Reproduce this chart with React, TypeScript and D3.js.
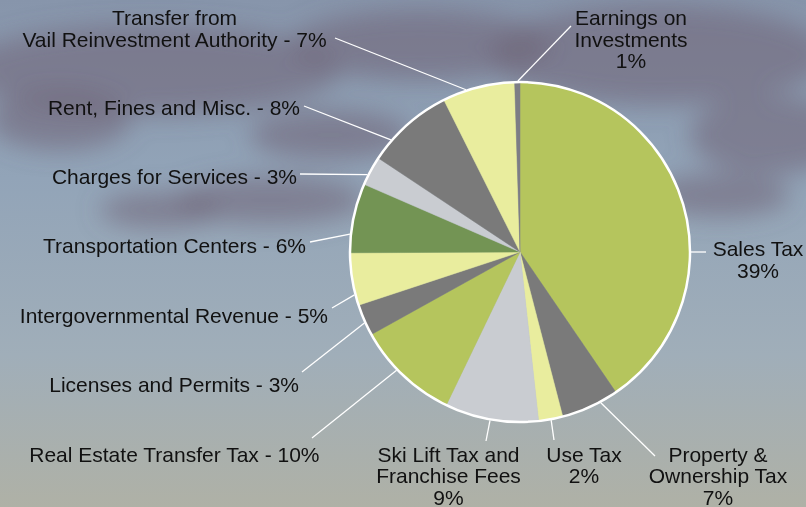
import React from "react";
import * as d3 from "d3";

// revenue sources, clockwise from 12 o'clock
const names = [
  "Sales Tax",
  "Property &\nOwnership Tax",
  "Use Tax",
  "Ski Lift Tax and\nFranchise Fees",
  "Real Estate Transfer Tax",
  "Licenses and Permits",
  "Intergovernmental Revenue",
  "Transportation Centers",
  "Charges for Services",
  "Rent, Fines and Misc.",
  "Transfer from\nVail Reinvestment Authority",
  "Earnings on\nInvestments",
];
// slice sizes as drawn (share of the circle, %)
const shares = [40.5, 5.5, 2.3, 8.9, 9.8, 3.0, 5.0, 6.6, 2.8, 8.3, 6.9, 0.5];
// percentages printed in the labels
const pctLabels = ["39%", "7%", "2%", "9%", "10%", "3%", "5%", "6%", "3%", "8%", "7%", "1%"];

const colors = [
  "#b5c55d", "#7a7a7a", "#e9ed9e", "#c9ccd1", "#b5c55d", "#7a7a7a",
  "#e9ed9e", "#739454", "#c9ccd1", "#7a7a7a", "#e9ed9e", "#7d7d85",
];

const W = 806;
const H = 507;
const cx = 520;
const cy = 252;
const R = 170;
const lineH = 21.5;

// label placement: edge angle (deg) of leader, leader end, text anchor point
const layout = [
  { a: 90, x2: 706, y2: 252, tx: 758, ty: 256, anchor: "middle", stacked: true },
  { a: 151.8, x2: 655, y2: 456, tx: 718, ty: 461.7, anchor: "middle", stacked: true },
  { a: 169.5, x2: 554, y2: 440, tx: 584, ty: 461.7, anchor: "middle", stacked: true },
  { a: 190.1, x2: 486, y2: 441, tx: 448.5, ty: 461.7, anchor: "middle", stacked: true },
  { a: 226.2, x2: 312, y2: 438, tx: 319.5, ty: 461.7, anchor: "end", stacked: false },
  { a: 245.5, x2: 302, y2: 372, tx: 299, ty: 391.7, anchor: "end", stacked: false },
  { a: 255.5, x2: 332, y2: 308, tx: 328, ty: 322.7, anchor: "end", stacked: false },
  { a: 276, x2: 310, y2: 242, tx: 306, ty: 253, anchor: "end", stacked: false },
  { a: 296.9, x2: 300, y2: 174, tx: 297, ty: 184, anchor: "end", stacked: false },
  { a: 311, x2: 304, y2: 106, tx: 300, ty: 115, anchor: "end", stacked: false },
  { a: 341.6, x2: 335, y2: 38, tx: 174.5, ty: 25, anchor: "middle", stacked: false },
  { a: 359.3, x2: 571, y2: 26, tx: 631, ty: 25, anchor: "middle", stacked: true },
];

// sky backdrop clouds
const clouds = [
  { x: 150, y: 70, rx: 190, ry: 45 },
  { x: 420, y: 45, rx: 130, ry: 35 },
  { x: 660, y: 55, rx: 170, ry: 50 },
  { x: 770, y: 135, rx: 80, ry: 40 },
  { x: 60, y: 120, rx: 70, ry: 30 },
  { x: 270, y: 200, rx: 95, ry: 24 },
  { x: 160, y: 210, rx: 60, ry: 18 },
  { x: 720, y: 195, rx: 70, ry: 22 },
  { x: 330, y: 135, rx: 80, ry: 25 },
];

const pie = d3
  .pie<number>()
  .sort(null)
  .value((d) => d)
  .startAngle(0)
  .endAngle(2 * Math.PI);

const arc = d3.arc<d3.PieArcDatum<number>>().innerRadius(0).outerRadius(R);

const labelLines = (i: number) => {
  const parts = names[i].split("\n");
  if (layout[i].stacked) return [...parts, pctLabels[i]];
  parts[parts.length - 1] += " - " + pctLabels[i];
  return parts;
};

export default function App() {
  const slices = pie(shares);

  return (
    <svg
      width={W}
      height={H}
      style={{ position: "fixed", left: 0, top: 0, display: "block" }}
      fontFamily="'Liberation Sans', Arial, Helvetica, sans-serif"
    >
      <defs>
        <linearGradient id="sky" x1="0" y1="0" x2="0" y2="1">
          <stop offset="0" stopColor="#8795ab" />
          <stop offset="0.35" stopColor="#92a4b8" />
          <stop offset="0.7" stopColor="#a0aeb9" />
          <stop offset="1" stopColor="#afb1a6" />
        </linearGradient>
        <filter id="blur" x="-50%" y="-50%" width="200%" height="200%">
          <feGaussianBlur stdDeviation="12" />
        </filter>
      </defs>
      <rect width={W} height={H} fill="url(#sky)" />
      <g filter="url(#blur)">
        {clouds.map((c, i) => (
          <ellipse key={i} cx={c.x} cy={c.y} rx={c.rx} ry={c.ry} fill="#6d6374" opacity={0.55} />
        ))}
      </g>

      <g transform={`translate(${cx},${cy})`}>
        {slices.map((s, i) => (
          <path key={i} d={arc(s) || ""} fill={colors[i]} stroke={colors[i]} strokeWidth={0.5} />
        ))}
        <circle r={R} fill="none" stroke="#ffffff" strokeWidth={2.5} />
      </g>

      {layout.map((l, i) => {
        const a = (l.a * Math.PI) / 180;
        const x1 = cx + (R + 1) * Math.sin(a);
        const y1 = cy - (R + 1) * Math.cos(a);
        return (
          <line key={"l" + i} x1={x1} y1={y1} x2={l.x2} y2={l.y2} stroke="#ffffff" strokeWidth={1.3} />
        );
      })}

      {layout.map((l, i) => (
        <text key={"t" + i} x={l.tx} y={l.ty} textAnchor={l.anchor} fontSize={21} fill="#111111">
          {labelLines(i).map((t, j) => (
            <tspan key={j} x={l.tx} y={l.ty + j * lineH}>
              {t}
            </tspan>
          ))}
        </text>
      ))}
    </svg>
  );
}
